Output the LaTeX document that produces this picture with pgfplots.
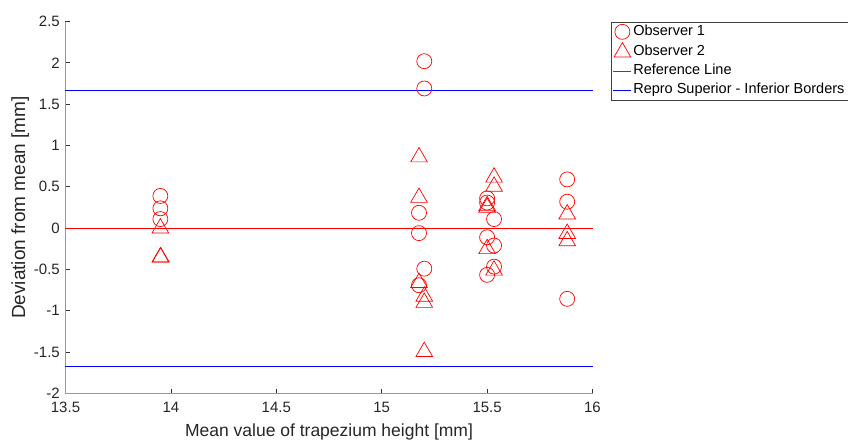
\documentclass[border=0pt]{standalone}
\usepackage{fontspec}
\setmainfont{Liberation Sans}
\usepackage{pgfplots}
\pgfplotsset{compat=1.18}
\definecolor{mred}{rgb}{1,0,0}
\definecolor{mblue}{rgb}{0,0,1}
\begin{document}
\begin{tikzpicture}
\useasboundingbox (-65.5bp,-47.5bp) rectangle (782.5bp,393.5bp);
\begin{axis}[
  scale only axis,
  width=527bp, height=372bp,
  xmin=13.5, xmax=16, ymin=-2, ymax=2.5,
  xtick={13.5,14,14.5,15,15.5,16},
  ytick={-2,-1.5,-1,-0.5,0,0.5,1,1.5,2,2.5},
  axis lines*=left,
  axis line style={draw=black!40, line width=0.8bp},
  tick align=inside,
  major tick length=5bp,
  every tick/.style={draw=black!80, line width=0.7bp},
  /pgf/number format/assume math mode=true,
  /pgf/number format/fixed,
  /pgf/number format/precision=1,
  tick label style={font=\fontsize{15bp}{18bp}\selectfont, text=black!85},
  yticklabel style={inner xsep=0bp, xshift=-5.5bp},
  xticklabel style={inner ysep=0bp, yshift=-8bp},
  xlabel={Mean value of trapezium height [mm]},
  ylabel={Deviation from mean [mm]},
  label style={text=black!85},
  xlabel style={font=\fontsize{17.5bp}{20bp}\selectfont, at={(axis description cs:0.5,0)}, anchor=base, yshift=-43.2bp},
  ylabel style={font=\fontsize{19bp}{22bp}\selectfont, at={(axis description cs:-0.07685,0.5)}, anchor=base},
  clip=false,
  legend cell align=left,
  legend style={at={(1,1)}, anchor=north west, xshift=18.2bp, yshift=-0.3bp,
    draw=black!75, line width=0.6bp, inner xsep=2bp, inner ysep=1.5bp,
    font=\fontsize{14.5bp}{17bp}\selectfont, row sep=2.5bp,
    nodes={inner xsep=1.5bp, inner ysep=1bp, text height=11bp, text depth=3.5bp}},
  legend image code/.code={\draw[mark repeat=2,mark phase=2,#1] plot coordinates {(0bp,0bp) (9bp,0bp) (18bp,0bp)};},
]
\addplot[only marks, mark=o, mark size=7.5bp, draw=mred, line width=0.7bp] coordinates {
(13.95,0.39) (13.95,0.24) (13.95,0.11)
(15.202,2.02) (15.202,1.69) (15.177,0.186) (15.177,-0.06) (15.202,-0.49) (15.177,-0.69)
(15.50,0.36) (15.50,0.31) (15.533,0.11) (15.50,-0.11) (15.533,-0.21) (15.533,-0.465) (15.50,-0.565)
(15.88,0.59) (15.88,0.32) (15.88,-0.855)
};
\addlegendentry{Observer 1}
\addplot[only marks, mark=triangle, mark size=9.6bp, draw=mred, line width=0.7bp] coordinates {
(13.95,0.0) (13.95,-0.35) (13.952,-0.35)
(15.177,0.86) (15.177,0.37) (15.177,-0.66) (15.202,-0.825) (15.202,-0.90) (15.202,-1.495)
(15.50,0.27) (15.50,0.25) (15.533,0.615) (15.533,0.505) (15.50,-0.25) (15.533,-0.51)
(15.88,0.17) (15.88,-0.066) (15.88,-0.155)
};
\addlegendentry{Observer 2}
\addplot[draw=mred, line width=0.8bp, no marks] coordinates {(13.5,0) (16,0)};
\addlegendentry{Reference Line}
\addplot[draw=mblue, line width=0.8bp, no marks] coordinates {(13.5,1.667) (16,1.667)};
\addlegendentry{Repro Superior - Inferior Borders}
\addplot[draw=mblue, line width=0.8bp, no marks, forget plot] coordinates {(13.5,-1.667) (16,-1.667)};
\end{axis}
\end{tikzpicture}
\end{document}
